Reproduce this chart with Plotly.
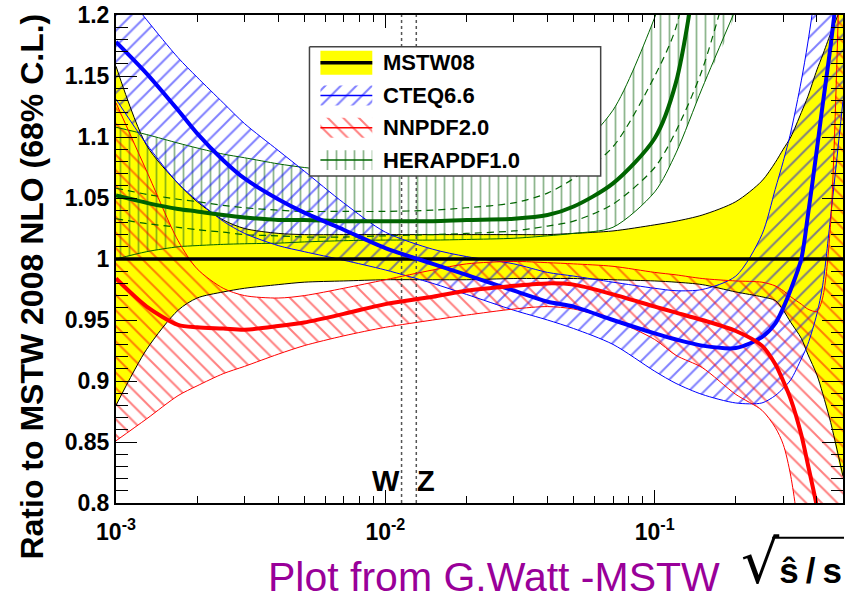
import math
import plotly.graph_objects as go

# ---------------- data ----------------
X = [0.001, 0.0013, 0.0017, 0.002, 0.0025, 0.003, 0.004, 0.005, 0.007, 0.01,
     0.015, 0.02, 0.03, 0.04, 0.05, 0.07, 0.1, 0.12, 0.15, 0.2,
     0.25, 0.28, 0.3, 0.32, 0.35, 0.37, 0.4, 0.42, 0.45, 0.5]

MSTW_CENTRAL = 1.0
MSTW_UP = [1.158, 1.093, 1.062, 1.047, 1.032, 1.025, 1.021, 1.020, 1.020, 1.020,
           1.020, 1.020, 1.020, 1.020, 1.021, 1.023, 1.028, 1.031, 1.036, 1.047,
           1.064, 1.079, 1.090, 1.100, 1.120, 1.133, 1.155, 1.167, 1.185, 1.21]
MSTW_LO = [0.880, 0.926, 0.958, 0.968, 0.973, 0.976, 0.979, 0.981, 0.982, 0.983,
           0.983, 0.983, 0.984, 0.984, 0.984, 0.983, 0.982, 0.981, 0.979, 0.973,
           0.969, 0.966, 0.958, 0.948, 0.935, 0.922, 0.905, 0.890, 0.866, 0.822]

CTEQ_C = [1.178, 1.152, 1.122, 1.103, 1.081, 1.066, 1.049, 1.038, 1.024, 1.009,
          0.996, 0.987, 0.974, 0.965, 0.961, 0.950, 0.939, 0.934, 0.929, 0.927,
          0.936, 0.947, 0.960, 0.975, 1.000, 1.035, 1.090, 1.126, 1.175, 1.26]
CTEQ_UP = [1.228, 1.196, 1.165, 1.149, 1.128, 1.111, 1.089, 1.072, 1.046, 1.022,
           1.008, 1.002, 0.996, 0.989, 0.986, 0.981, 0.976, 0.974, 0.975, 0.986,
           1.020, 1.057, 1.080, 1.104, 1.146, 1.177, 1.23, 1.29, 1.35, 1.45]
CTEQ_LO = [1.131, 1.094, 1.062, 1.048, 1.031, 1.021, 1.011, 1.006, 0.999, 0.991,
           0.980, 0.971, 0.958, 0.950, 0.943, 0.930, 0.908, 0.898, 0.889, 0.882,
           0.882, 0.888, 0.894, 0.901, 0.918, 0.930, 0.955, 0.978, 1.035, 1.13]

NNPDF_C = [0.984, 0.961, 0.946, 0.944, 0.943, 0.942, 0.945, 0.948, 0.955, 0.963,
           0.969, 0.974, 0.978, 0.980, 0.979, 0.971, 0.961, 0.956, 0.950, 0.941,
           0.929, 0.914, 0.900, 0.885, 0.856, 0.832, 0.797, 0.77, 0.72, 0.62]
NNPDF_UP = [1.128, 1.072, 1.015, 0.992, 0.976, 0.970, 0.968, 0.970, 0.976, 0.983,
            0.991, 0.996, 0.998, 0.997, 0.996, 0.994, 0.989, 0.987, 0.984, 0.982,
            0.981, 0.978, 0.974, 0.969, 0.963, 0.959, 0.957, 0.968, 1.03, 1.35]
NNPDF_LO = [0.851, 0.869, 0.888, 0.896, 0.906, 0.912, 0.922, 0.929, 0.937, 0.944,
            0.950, 0.954, 0.959, 0.961, 0.959, 0.950, 0.934, 0.921, 0.911, 0.889,
            0.876, 0.862, 0.848, 0.822, 0.76, 0.70, 0.62, 0.58, 0.52, 0.45]

HERA_X = X[:20]
HERA_C = [1.052, 1.046, 1.041, 1.039, 1.036, 1.034, 1.032, 1.032, 1.031, 1.031,
          1.031, 1.032, 1.033, 1.036, 1.043, 1.062, 1.099, 1.145, 1.27, 1.50]
HERA_UP = [1.108, 1.102, 1.095, 1.091, 1.086, 1.083, 1.078, 1.075, 1.072, 1.071,
           1.071, 1.072, 1.074, 1.079, 1.088, 1.122, 1.198, 1.25, 1.36, 1.55]
HERA_LO = [1.000, 1.006, 1.010, 1.011, 1.012, 1.0125, 1.013, 1.014, 1.015, 1.0155,
           1.0155, 1.016, 1.017, 1.019, 1.021, 1.026, 1.055, 1.087, 1.14, 1.205]
HERA_EXP_UP = [1.058, 1.053, 1.049, 1.047, 1.044, 1.042, 1.040, 1.039, 1.039, 1.039,
               1.040, 1.042, 1.046, 1.054, 1.066, 1.092, 1.150, 1.19, 1.30, 1.45]
HERA_EXP_LO = [1.033, 1.029, 1.026, 1.024, 1.022, 1.020, 1.019, 1.018, 1.018, 1.019,
               1.020, 1.021, 1.023, 1.027, 1.031, 1.045, 1.075, 1.105, 1.155, 1.25]

W_POS = 80.4 / 7000.0
Z_POS = 91.19 / 7000.0

X_RANGE = [0.001, 0.5]
Y_RANGE = [0.8, 1.2]
Y_TICKS = [0.8, 0.85, 0.9, 0.95, 1.0, 1.05, 1.1, 1.15, 1.2]
Y_TICKTEXT = ["0.8", "0.85", "0.9", "0.95", "1", "1.05", "1.1", "1.15", "1.2"]
X_TICKS = [0.001, 0.01, 0.1]
X_TICKTEXT = ["10<sup>-3</sup>", "10<sup>-2</sup>", "10<sup>-1</sup>"]

LEGEND_NAMES = ["MSTW08", "CTEQ6.6", "NNPDF2.0", "HERAPDF1.0"]

# ---------------- styling ----------------
FONT = "Liberation Sans"
YELLOW = "#ffff00"
BLUE = "#0000ff"
RED = "#ff0000"
GREEN = "#006400"
GREEN_HATCH = "#1f6f1f"
PURPLE = "#990099"

W_FIG, H_FIG = 847, 600
PL, PR, PT, PB = 116, 845, 12, 503


def px_x(p):
    return (p - PL) / (PR - PL)


def px_y(p):
    return (PB - p) / (PB - PT)


def polygon(xs, up, lo):
    return list(xs) + list(xs)[::-1], list(up) + list(lo)[::-1]


BLUE_PAT = dict(shape="/", fgcolor=BLUE, bgcolor="rgba(0,0,0,0)", size=11, solidity=0.18)
RED_PAT = dict(shape="\\", fgcolor=RED, bgcolor="rgba(0,0,0,0)", size=11, solidity=0.18)
GREEN_PAT = dict(shape="|", fgcolor=GREEN_HATCH, bgcolor="rgba(0,0,0,0)", size=9, solidity=0.2)

fig = go.Figure()


def add_band(xs, up, lo, fillcolor=None, pattern=None):
    px_, py_ = polygon(xs, up, lo)
    kw = dict(x=px_, y=py_, mode="lines", fill="toself",
              line=dict(width=0, shape="spline", smoothing=0.8),
              hoverinfo="skip", showlegend=False)
    if pattern:
        kw["fillcolor"] = "rgba(0,0,0,0)"
        kw["fillpattern"] = pattern
    else:
        kw["fillcolor"] = fillcolor
    fig.add_trace(go.Scatter(**kw))


def add_line(xs, ys, color, width, dash=None, xa="x", ya="y", shape="spline"):
    fig.add_trace(go.Scatter(x=xs, y=ys, mode="lines", xaxis=xa, yaxis=ya,
                             line=dict(color=color, width=width, dash=dash,
                                       shape=shape, smoothing=0.8),
                             hoverinfo="skip", showlegend=False))


# bands
add_band(X, MSTW_UP, MSTW_LO, fillcolor=YELLOW)
add_band(HERA_X, HERA_UP, HERA_LO, pattern=GREEN_PAT)
add_band(X, CTEQ_UP, CTEQ_LO, pattern=BLUE_PAT)
add_band(X, NNPDF_UP, NNPDF_LO, pattern=RED_PAT)

# W / Z dotted lines
for pos in (W_POS, Z_POS):
    add_line([pos, pos], Y_RANGE, "#555555", 1.5, dash="dot", shape="linear")

# band edges
add_line(X, MSTW_UP, "black", 1)
add_line(X, MSTW_LO, "black", 1)
add_line(HERA_X, HERA_UP, GREEN, 1)
add_line(HERA_X, HERA_LO, GREEN, 1)
add_line(HERA_X, HERA_EXP_UP, GREEN, 1.2, dash="7px,5px")
add_line(HERA_X, HERA_EXP_LO, GREEN, 1.2, dash="7px,5px")
add_line(X, CTEQ_UP, BLUE, 1)
add_line(X, CTEQ_LO, BLUE, 1)
add_line(X, NNPDF_UP, RED, 1)
add_line(X, NNPDF_LO, RED, 1)

# central values
add_line(X_RANGE, [MSTW_CENTRAL, MSTW_CENTRAL], "black", 3.5, shape="linear")
add_line(HERA_X, HERA_C, GREEN, 4)
add_line(X, CTEQ_C, BLUE, 4)
add_line(X, NNPDF_C, RED, 4)

# ---------------- legend (drawn on a pixel-space overlay axis) ----------------
LEG_BOX = (310, 44, 602, 174)
LEG_ROWS = [60, 93, 125.5, 158]
SW_X0, SW_X1 = 321, 373
TXT_X = 382

bx0, by0, bx1, by1 = LEG_BOX
fig.add_trace(go.Scatter(x=[bx0, bx1, bx1, bx0, bx0], y=[by0, by0, by1, by1, by0],
                         mode="lines", fill="toself", fillcolor="white",
                         line=dict(color="#444444", width=1.5),
                         xaxis="x2", yaxis="y2", hoverinfo="skip", showlegend=False))

sw_styles = [
    dict(fillcolor=YELLOW, pattern=None, color="black", lw=3.5, hh=12),
    dict(fillcolor=None, pattern=BLUE_PAT, color=BLUE, lw=1.5, hh=10),
    dict(fillcolor=None, pattern=RED_PAT, color=RED, lw=1.5, hh=10),
    dict(fillcolor=None, pattern=GREEN_PAT, color=GREEN, lw=1.5, hh=10),
]
for row, st in zip(LEG_ROWS, sw_styles):
    kw = dict(x=[SW_X0, SW_X1, SW_X1, SW_X0, SW_X0],
              y=[row - st["hh"], row - st["hh"], row + st["hh"], row + st["hh"], row - st["hh"]],
              mode="lines", fill="toself", line=dict(width=0),
              xaxis="x2", yaxis="y2", hoverinfo="skip", showlegend=False)
    if st["pattern"]:
        kw["fillcolor"] = "rgba(0,0,0,0)"
        kw["fillpattern"] = st["pattern"]
    else:
        kw["fillcolor"] = st["fillcolor"]
    fig.add_trace(go.Scatter(**kw))
    add_line([SW_X0, SW_X1], [row, row], st["color"], st["lw"], xa="x2", ya="y2", shape="linear")

annotations = []
for row, name in zip(LEG_ROWS, LEGEND_NAMES):
    annotations.append(dict(x=px_x(TXT_X), y=px_y(row), xref="paper", yref="paper",
                            text=name, showarrow=False, xanchor="left", yanchor="middle",
                            font=dict(family=FONT, size=22, color="black", weight="bold")))

# other text
annotations += [
    dict(x=px_x(32), y=px_y(285), xref="paper", yref="paper", textangle=-90,
         text="Ratio to MSTW 2008 NLO (68% C.L.)", showarrow=False,
         xanchor="center", yanchor="middle",
         font=dict(family=FONT, size=32, color="black", weight="bold")),
    dict(x=px_x(387), y=px_y(481), xref="paper", yref="paper", text="W",
         showarrow=False, xanchor="center", yanchor="middle",
         font=dict(family=FONT, size=29, color="black", weight="bold")),
    dict(x=px_x(427), y=px_y(481), xref="paper", yref="paper", text="Z",
         showarrow=False, xanchor="center", yanchor="middle",
         font=dict(family=FONT, size=29, color="black", weight="bold")),
    dict(x=px_x(495), y=px_y(577), xref="paper", yref="paper",
         text="Plot from G.Watt -MSTW", showarrow=False,
         xanchor="center", yanchor="middle",
         font=dict(family=FONT, size=41, color=PURPLE)),
    dict(x=px_x(846), y=px_y(562), xref="paper", yref="paper",
         text="<span style='font-family:DejaVu Sans;font-size:60px;font-weight:normal'>√</span>ŝ\u2009/\u2009s",
         showarrow=False, xanchor="right", yanchor="middle",
         font=dict(family=FONT, size=35, color="black", weight="bold")),
]

shapes = [dict(type="line", xref="paper", yref="paper",
               x0=px_x(774), x1=px_x(846), y0=px_y(538), y1=px_y(538),
               line=dict(color="black", width=2))]

X_MINOR = [k * 10 ** e for e in (-3, -2, -1) for k in range(2, 10) if k * 10 ** e <= 0.5]
Y_MINOR = [round(0.8 + 0.01 * i, 2) for i in range(41) if i % 5]

tickfont = dict(family=FONT, size=23, color="black", weight="bold")

fig.update_layout(
    width=W_FIG, height=H_FIG,
    margin=dict(l=PL, r=W_FIG - PR, t=PT, b=H_FIG - PB),
    paper_bgcolor="white", plot_bgcolor="white",
    showlegend=False, hovermode=False,
    annotations=annotations, shapes=shapes,
    xaxis=dict(type="log", range=[math.log10(X_RANGE[0]), math.log10(X_RANGE[1])],
               showline=True, linecolor="black", linewidth=2, mirror="ticks",
               ticks="inside", ticklen=13, tickwidth=1.3, tickcolor="black",
               tickmode="array", tickvals=X_TICKS, ticktext=X_TICKTEXT, tickfont=tickfont,
               ticklabeloverflow="allow", ticklabelstandoff=7,
               minor=dict(ticks="inside", ticklen=7, tickwidth=1.3, tickcolor="black",
                          tickmode="array", tickvals=X_MINOR, showgrid=False),
               showgrid=False, zeroline=False),
    yaxis=dict(range=Y_RANGE, showline=True, linecolor="black", linewidth=2, mirror="ticks",
               ticks="inside", ticklen=21, tickwidth=1.3, tickcolor="black",
               tickmode="array", tickvals=Y_TICKS, ticktext=Y_TICKTEXT, tickfont=tickfont,
               ticklabeloverflow="allow",
               minor=dict(ticks="inside", ticklen=12, tickwidth=1.3, tickcolor="black",
                          tickmode="array", tickvals=Y_MINOR, showgrid=False),
               showgrid=False, zeroline=False),
    xaxis2=dict(overlaying="x", range=[PL, PR], visible=False, anchor="y2"),
    yaxis2=dict(overlaying="y", range=[PB, PT], visible=False, anchor="x2"),
)

fig.write_html("out.html")
